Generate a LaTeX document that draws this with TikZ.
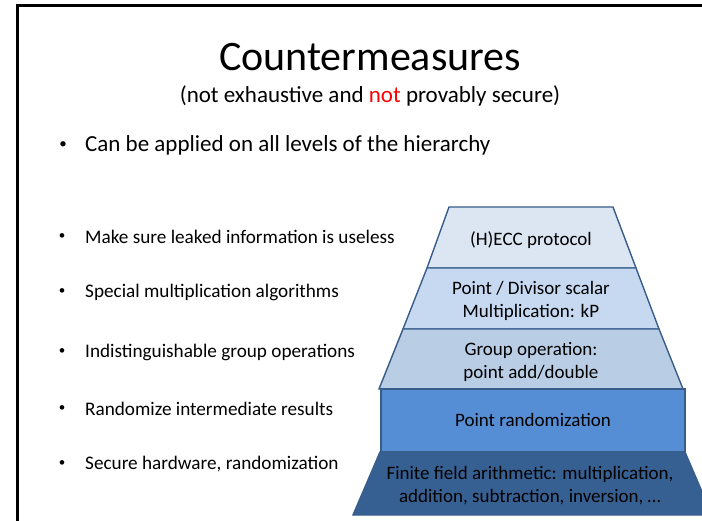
\documentclass[tikz,border=0pt]{standalone}
\usepackage{fontspec}
\setmainfont{Carlito}
\definecolor{protocolBlue}{HTML}{DCE6F2}
\definecolor{scalarBlue}{HTML}{C6D9F1}
\definecolor{groupBlue}{HTML}{B9CDE5}
\definecolor{randomBlue}{HTML}{558ED5}
\definecolor{fieldBlue}{HTML}{376092}
\definecolor{edgeBlue}{HTML}{385D8A}
\usepackage{tikz}

\tikzset{
    layer/.style={draw=edgeBlue, line width=1.4pt, line join=miter},
    layerlabel/.style={font=\fontsize{19}{23}\selectfont, align=center, inner sep=0pt},
    bulletdot/.style={font=\fontsize{13}{15}\selectfont, inner sep=0pt},
    bulletitem/.style={anchor=west, font=\fontsize{19.2}{23}\selectfont, inner sep=0pt},
}

\begin{document}
\begin{tikzpicture}[x=1pt, y=-1pt]
    \useasboundingbox (0,0) rectangle (702,521);
    \draw[line width=3pt] (17.5,540) -- (17.5,6) -- (720,6);

    \node[font=\fontsize{42}{50}\selectfont] (title) at (370,57) {Countermeasures};
    \node[font=\fontsize{23}{28}\selectfont] (subtitle) at (370,96)
        {(not exhaustive and \textcolor{red}{not} provably secure)};

    \node[font=\fontsize{15}{18}\selectfont, inner sep=0pt] (dotAll) at (63,145) {•};
    \node[anchor=west, font=\fontsize{23}{28}\selectfont, inner sep=0pt] (allLevels) at (85,145)
        {Can be applied on all levels of the hierarchy};

    \node[bulletdot] (dotUseless) at (62,237) {•};
    \node[bulletitem] (useless) at (85,237) {Make sure leaked information is useless};
    \node[bulletdot] (dotSpecial) at (62,292) {•};
    \node[bulletitem] (special) at (85,292) {Special multiplication algorithms};
    \node[bulletdot] (dotGroup) at (62,352) {•};
    \node[bulletitem] (indist) at (85,352) {Indistinguishable group operations};
    \node[bulletdot] (dotRandom) at (62,409) {•};
    \node[bulletitem] (randomize) at (85,409) {Randomize intermediate results};
    \node[bulletdot] (dotHardware) at (62,464) {•};
    \node[bulletitem] (hardware) at (85,464) {Secure hardware, randomization};

    \draw[layer, fill=protocolBlue] (449,207) -- (613,207) -- (636,268) -- (427,268) -- cycle;
    \draw[layer, fill=scalarBlue] (427,268) -- (636,268) -- (659,329) -- (403,329) -- cycle;
    \draw[layer, fill=groupBlue] (403,329) -- (659,329) -- (683,389) -- (379,389) -- cycle;
    \draw[layer, fill=randomBlue] (381,389) rectangle (685,452);
    \draw[layer, fill=fieldBlue] (380,452) -- (685,452) -- (712,515) -- (353,515) -- cycle;

    \node[layerlabel] (protocol) at (531,240) {(H)ECC protocol};
    \node[layerlabel] (scalar) at (531,301) {Point / Divisor scalar\\Multiplication: kP};
    \node[layerlabel] (group) at (531,362) {Group operation:\\point add/double};
    \node[layerlabel] (pointRand) at (533,420) {Point randomization};
    \node[layerlabel] (field) at (530,486)
        {Finite field arithmetic: multiplication,\\addition, subtraction, inversion, \dots};
\end{tikzpicture}
\end{document}
